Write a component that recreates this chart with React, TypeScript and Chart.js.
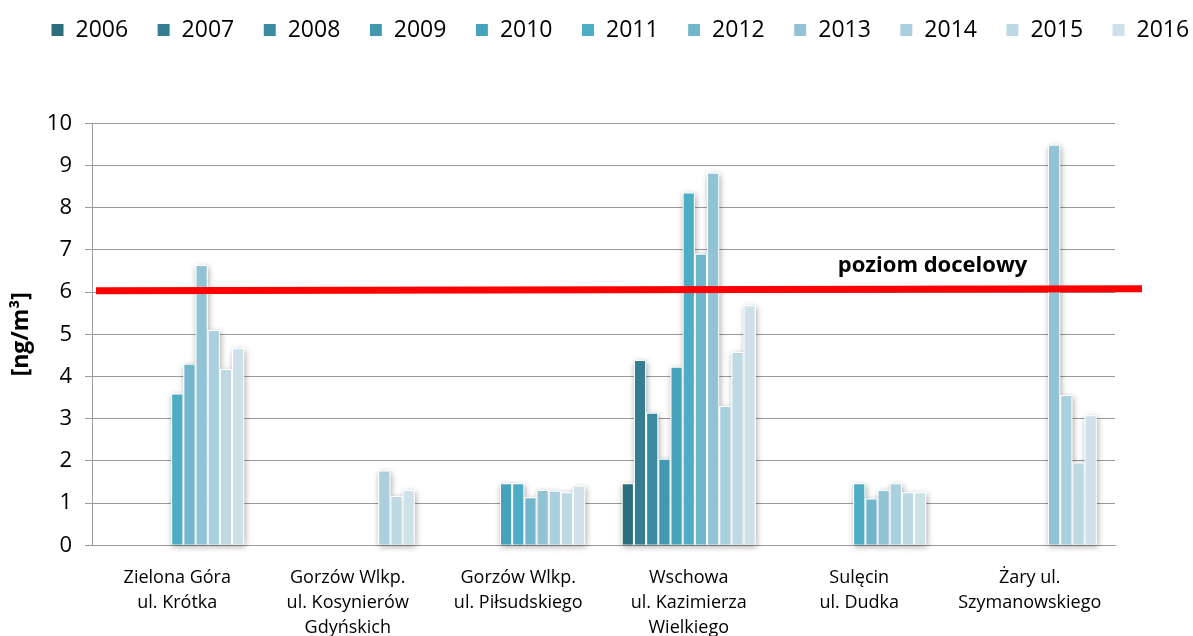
import React, { useEffect, useRef } from "react";
import { Chart, registerables } from "chart.js";

Chart.register(...registerables);

const FONT = "'Open Sans', sans-serif";

const years = ["2006", "2007", "2008", "2009", "2010", "2011", "2012", "2013", "2014", "2015", "2016"];

const stations = [
  ["Zielona Góra", "ul. Krótka"],
  ["Gorzów Wlkp.", "ul. Kosynierów", "Gdyńskich"],
  ["Gorzów Wlkp.", "ul. Piłsudskiego"],
  ["Wschowa", "ul. Kazimierza", "Wielkiego"],
  ["Sulęcin", "ul. Dudka"],
  ["Żary ul.", "Szymanowskiego"],
];

// values per year, in station order [ng/m3]
const v2006 = [null, null, null, 1.47, null, null];
const v2007 = [null, null, null, 4.39, null, null];
const v2008 = [null, null, null, 3.14, null, null];
const v2009 = [null, null, null, 2.05, null, null];
const v2010 = [null, null, 1.47, 4.23, null, null];
const v2011 = [3.6, null, 1.47, 8.36, 1.47, null];
const v2012 = [4.3, null, 1.14, 6.91, 1.11, null];
const v2013 = [6.64, null, 1.31, 8.83, 1.31, 9.49];
const v2014 = [5.1, 1.77, 1.29, 3.3, 1.47, 3.56];
const v2015 = [4.18, 1.17, 1.26, 4.58, 1.26, 1.96];
const v2016 = [4.67, 1.31, 1.41, 5.69, 1.26, 3.08];

const seriesValues = [v2006, v2007, v2008, v2009, v2010, v2011, v2012, v2013, v2014, v2015, v2016];

const yearColors = [
  "#2D6E7E", "#357E92", "#3B8CA1", "#4298AE", "#47A3BA", "#4CADC5",
  "#72B6CC", "#92C3D5", "#AACFDE", "#BCD9E4", "#CEE1E9",
];

const targetLevel = [6.03, 6.08]; // drawn line, left end / right end
const targetLabel = "poziom docelowy";
const yTitle = "[ng/m³]";
const yMin = 0;
const yMax = 10;
const yStep = 1;

const legendLayoutPlugin = {
  id: "legendLayout",
  beforeInit(chart: any) {
    const lg = chart.legend;
    if (!lg) return;
    const origFit = lg.fit;
    lg.fit = function () {
      this.maxWidth = 1500;
      origFit.call(this);
      this.height = 123.3;
    };
  },
  afterLayout(chart: any) {
    const lg = chart.legend;
    if (!lg || !lg.lineWidths) return;
    const P = 29;
    const firstX = 51;
    const lw = lg.lineWidths[0];
    lg.left = 0;
    lg.right = 2 * firstX - P + lw;
    lg.width = lg.right;
    lg.top = -10.5;
    lg.bottom = lg.top + lg.height;
  },
};

const barShadowPlugin = {
  id: "barShadow",
  beforeDatasetsDraw(chart: any) {
    const ctx = chart.ctx;
    ctx.save();
    ctx.shadowColor = "rgba(0,0,0,0.35)";
    ctx.shadowBlur = 6;
    ctx.shadowOffsetX = 1;
    ctx.shadowOffsetY = 2;
    ctx.fillStyle = "#ffffff";
    chart.data.datasets.forEach((ds: any, i: number) => {
      const meta = chart.getDatasetMeta(i);
      meta.data.forEach((el: any, j: number) => {
        if (ds.data[j] == null) return;
        const { x, y, base, width } = el.getProps(["x", "y", "base", "width"], true);
        if (!isFinite(y)) return;
        ctx.fillRect(x - width / 2, y, width, base - y);
      });
    });
    ctx.restore();
  },
};

const targetLinePlugin = {
  id: "targetLine",
  afterDatasetsDraw(chart: any) {
    const { ctx, chartArea, scales } = chart;
    const y1 = scales.y.getPixelForValue(targetLevel[0]);
    const y2 = scales.y.getPixelForValue(targetLevel[1]);
    const x1 = chartArea.left + 4;
    const x2 = chartArea.right + 27;
    ctx.save();
    ctx.strokeStyle = "#FF0000";
    ctx.lineWidth = 7;
    ctx.lineCap = "butt";
    ctx.beginPath();
    ctx.moveTo(x1, y1);
    ctx.lineTo(x2, y2);
    ctx.stroke();
    const tx = chartArea.right - 182.5;
    const ty = y1 + ((y2 - y1) * (tx - x1)) / (x2 - x1) - 17;
    ctx.fillStyle = "#000";
    ctx.font = `bold 22px ${FONT}`;
    ctx.textAlign = "center";
    ctx.textBaseline = "alphabetic";
    ctx.fillText(targetLabel, tx, ty);
    ctx.restore();
  },
};

export default function App() {
  const ref = useRef<HTMLCanvasElement>(null);

  useEffect(() => {
    const canvas = ref.current;
    if (!canvas) return;
    const chart = new Chart(canvas, {
      type: "bar",
      data: {
        labels: stations as any,
        datasets: years.map((yr, i) => ({
          label: yr,
          data: seriesValues[i] as any,
          backgroundColor: yearColors[i],
          borderColor: "#ffffff",
          borderWidth: 1,
          categoryPercentage: 0.786,
          barPercentage: 1.0,
        })),
      },
      options: {
        animation: false,
        responsive: true,
        maintainAspectRatio: false,
        layout: { padding: { left: 0, right: 78, top: 0, bottom: 0 } },
        plugins: {
          tooltip: { enabled: false },
          legend: {
            display: true,
            position: "top",
            align: "center",
            labels: {
              boxWidth: 13,
              boxHeight: 13,
              padding: 29,
              color: "#000",
              font: { family: FONT, size: 23 },
            },
          },
        },
        scales: {
          x: {
            grid: { display: false, drawTicks: false },
            border: { display: true, color: "#9A9A9A", width: 1 },
            ticks: {
              color: "#000",
              font: { family: FONT, size: 18, lineHeight: 25 / 18 },
              padding: 20,
              autoSkip: false,
              maxRotation: 0,
              minRotation: 0,
            },
            afterFit: (s: any) => {
              s.height = 636 - 545.3;
            },
          },
          y: {
            min: yMin,
            max: yMax,
            ticks: {
              stepSize: yStep,
              color: "#000",
              font: { family: FONT, size: 22 },
              padding: 13,
            },
            grid: { color: "#9A9A9A", lineWidth: 1, tickLength: 7, drawTicks: true },
            border: { display: true, color: "#9A9A9A", width: 1 },
            title: {
              display: true,
              text: yTitle,
              color: "#000",
              font: { family: FONT, size: 23, weight: "bold" },
              padding: { top: 8, bottom: 0 },
            },
            afterFit: (s: any) => {
              s.width = 92;
            },
          },
        },
      } as any,
      plugins: [legendLayoutPlugin, barShadowPlugin, targetLinePlugin],
    });
    return () => chart.destroy();
  }, []);

  return (
    <div style={{ position: "fixed", left: 0, top: 0, width: 1193, height: 636, background: "#fff" }}>
      <canvas ref={ref} />
    </div>
  );
}
